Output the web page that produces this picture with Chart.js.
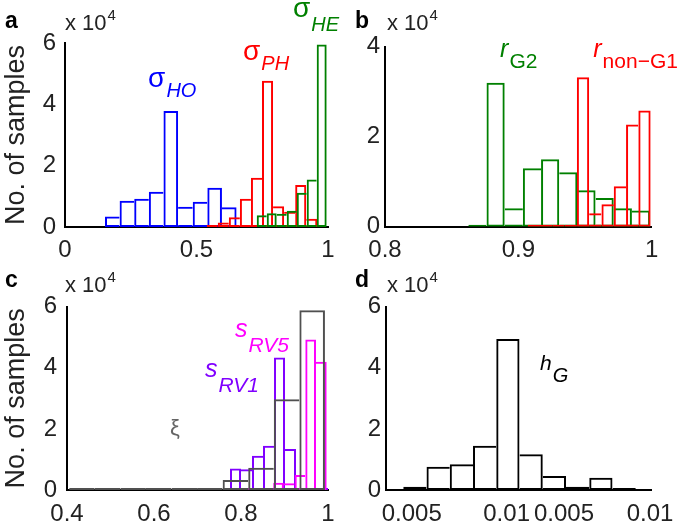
<!DOCTYPE html>
<html>
<head>
<meta charset="utf-8">
<script src="https://cdn.jsdelivr.net/npm/chart.js@4.4.1/dist/chart.umd.min.js"></script>
<style>
  html, body { margin: 0; padding: 0; background: #fff; }
  #wrap { position: relative; width: 700px; height: 527px; }
  canvas { position: absolute; }
</style>
</head>
<body>
<div id="wrap">
  <canvas id="pa" width="350" height="260" style="left:0;top:0"></canvas>
  <canvas id="pb" width="350" height="260" style="left:350px;top:0"></canvas>
  <canvas id="pc" width="350" height="267" style="left:0;top:260px"></canvas>
  <canvas id="pd" width="350" height="267" style="left:350px;top:260px"></canvas>
</div>
<script>
// bin counts, in units of 10^4 samples
const sigmaHO = [0.34, 0.86, 0.92, 1.15, 3.78, 0.66, 0.82, 1.28, 0.64];
const sigmaPH = [0.02, 0.15, 0.32, 0.92, 1.61, 4.77, 0.68, 0.50, 1.37, 0.27];
const sigmaHE = [0.38, 0.45, 0.43, 0.53, 1.12, 1.55, 5.95];
const rG2     = [0.02, 3.20, 0.41, 1.30, 1.50, 1.21, 0.81, 0.64, 0.41, 0.36];
const rNonG1  = [0.01, 0.01, 0.03, 0.03, 3.32, 0.30, 0.50, 0.90, 2.27, 2.58];
const xiVals  = [0.01, 0.02, 0.02, 0.01, 0.03, 0.06, 0.33, 0.73, 2.97, 5.88];
const sRV1    = [0.70, 0.68, 1.12, 1.45, 4.34, 1.34, 0.03, 0.03, 0.01];
const sRV5    = [0.01, 0.01, 0.02, 0.02, 0.24, 0.22, 0.49, 4.93, 4.20];
const hG      = [0.11, 0.76, 0.84, 1.45, 4.94, 1.17, 0.46, 0.11, 0.40, 0.02];

// [first bin edge, bin width]
const sigmaHOBins = [0.152, 0.0556];
const sigmaPHBins = [0.5388, 0.04205];
const sigmaHEBins = [0.729, 0.038];
const rG2Bins     = [0.8625, 0.01363];
const rNonG1Bins  = [0.907, 0.00922];
const xiBins      = [0.405, 0.0588];
const sRV1Bins    = [0.7747, 0.0253];
const sRV5Bins    = [0.7756, 0.0246];
const hGBins      = [0.065, 0.0875];

// axis ticks
const aTicks = [0, 0.5, 1];
const bTicks = [0.8, 0.9, 1];
const cTicks = [0.4, 0.6, 0.8, 1];
const dTicks = [0.097, 0.454, 0.670, 0.994];
const dTickLabels = ['0.005', '0.01', '0.005', '0.01'];
const yTicks6 = [0, 2, 4, 6];
const yTicks4 = [0, 2, 4];

const FAMILY = "'Liberation Sans', Arial, Helvetica, sans-serif";
const LW = 2;

// one line per shared edge: the taller bar draws it
function edgeWidth(ctx) {
  if (ctx.dataIndex === undefined) return LW;
  const d = ctx.dataset.data, i = ctx.dataIndex, h = d[i].y;
  const prev = i > 0 ? d[i - 1].y : -1;
  const next = i < d.length - 1 ? d[i + 1].y : -1;
  return { top: LW, bottom: LW, left: h >= prev ? LW : 0, right: h > next ? LW : 0 };
}

function notes(p) {
  return {
    id: 'notes',
    afterDraw(chart) {
      const ctx = chart.ctx, xs = chart.scales.x, ys = chart.scales.y;
      ctx.save();
      ctx.textAlign = 'left';
      ctx.textBaseline = 'alphabetic';
      ctx.fillStyle = '#000';
      ctx.font = 'bold 23px ' + FAMILY;
      ctx.fillText(p.letter, 5, p.letterY);
      ctx.fillStyle = '#222';
      ctx.font = '22px ' + FAMILY;
      ctx.fillText('x 10', p.mult[0], p.mult[1]);
      const w = ctx.measureText('x 10').width;
      ctx.font = '15px ' + FAMILY;
      ctx.fillText('4', p.mult[0] + w + 1, p.mult[1] - 10);
      p.labels.forEach(n => {
        const x = xs.getPixelForValue(n.x), y = ys.getPixelForValue(n.y);
        ctx.fillStyle = n.color;
        ctx.font = n.mainFont + ' ' + FAMILY;
        ctx.fillText(n.main, x, y);
        if (n.sub) {
          const mw = ctx.measureText(n.main).width;
          ctx.font = n.subFont + ' ' + FAMILY;
          ctx.fillText(n.sub, x + mw + 1, y + n.dy);
        }
      });
      ctx.restore();
    }
  };
}

// series listed top-most first (Chart.js paints dataset 0 last)
function panel(id, p) {
  const H = document.getElementById(id).height;
  const scales = {
    x: {
      type: 'linear', min: p.xMin, max: p.xMax, offset: false,
      afterBuildTicks: s => { s.ticks = p.xTicks.map(v => ({ value: v })); },
      ticks: {
        font: { family: FAMILY, size: 24 }, color: '#222', padding: p.xPad,
        autoSkip: false, maxRotation: 0,
        callback: (v, i) => p.xLabels ? p.xLabels[i] : String(v)
      },
      grid: { display: false, drawTicks: false, offset: false },
      border: { color: '#000', width: 2 },
      afterFit: s => { s.height = H - p.bottom; }
    },
    y: {
      min: 0, max: p.yMax,
      afterBuildTicks: s => { s.ticks = p.yTicks.map(v => ({ value: v })); },
      ticks: { font: { family: FAMILY, size: 24 }, color: '#222', padding: p.yPad },
      grid: { display: false, drawTicks: false },
      border: { color: '#000', width: 2 },
      title: {
        display: !!p.yTitle, text: 'No. of samples', color: '#222',
        font: { family: FAMILY, size: 27 }, padding: 0
      },
      afterFit: s => { s.width = p.left; }
    }
  };
  const datasets = p.series.map((s, k) => {
    const axisId = 'x' + k;
    scales[axisId] = {
      type: 'linear', axis: 'x', display: false, offset: false,
      min: p.xMin, max: p.xMax,
      grid: { offset: false },
      afterBuildTicks: sc => { sc.ticks = [{ value: p.xMin }, { value: p.xMax }]; }
    };
    return {
      type: 'bar',
      data: s.values.map((v, i) => ({ x: s.bins[0] + (i + 0.5) * s.bins[1], y: v })),
      xAxisID: axisId, yAxisID: 'y', grouped: false,
      borderColor: s.color, backgroundColor: 'rgba(0,0,0,0)',
      borderWidth: edgeWidth, borderSkipped: false,
      barPercentage: 1, categoryPercentage: 1, inflateAmount: 0, minBarLength: 2
    };
  });
  new Chart(document.getElementById(id), {
    type: 'bar',
    data: { datasets },
    options: {
      responsive: false, animation: false,
      layout: { padding: { left: 0, right: 350 - p.right, top: p.top, bottom: 0 } },
      plugins: { legend: { display: false }, tooltip: { enabled: false } },
      scales
    },
    plugins: [notes(p)]
  });
}

panel('pa', {
  left: 65, right: 328, top: 43, bottom: 227, yPad: 9, xPad: 9,
  xMin: 0, xMax: 1, xTicks: aTicks, yMax: 6, yTicks: yTicks6, yTitle: true,
  letter: 'a', letterY: 28, mult: [65, 30],
  series: [
    { values: sigmaHE, bins: sigmaHEBins, color: '#008000' },
    { values: sigmaPH, bins: sigmaPHBins, color: '#ff0000' },
    { values: sigmaHO, bins: sigmaHOBins, color: '#0000ff' }
  ],
  labels: [
    { x: 0.316, y: 4.56, main: 'σ', sub: 'HO', color: '#0000ff', mainFont: '28px', subFont: 'italic 20px', dy: 10 },
    { x: 0.677, y: 5.44, main: 'σ', sub: 'PH', color: '#ff0000', mainFont: '28px', subFont: 'italic 20px', dy: 10 },
    { x: 0.867, y: 6.85, main: 'σ', sub: 'HE', color: '#008000', mainFont: '28px', subFont: 'italic 20px', dy: 14 }
  ]
});

panel('pb', {
  left: 35, right: 301.7, top: 46.7, bottom: 226.7, yPad: 5, xPad: 9,
  xMin: 0.8, xMax: 1, xTicks: bTicks, yMax: 4, yTicks: yTicks4, yTitle: false,
  letter: 'b', letterY: 28, mult: [37, 30],
  series: [
    { values: rNonG1, bins: rNonG1Bins, color: '#ff0000' },
    { values: rG2, bins: rG2Bins, color: '#008000' }
  ],
  labels: [
    { x: 0.8863, y: 3.78, main: 'r', sub: 'G2', color: '#008000', mainFont: 'italic 25px', subFont: '21px', dy: 11 },
    { x: 0.9562, y: 3.78, main: 'r', sub: 'non\u2212G1', color: '#ff0000', mainFont: 'italic 25px', subFont: '21px', dy: 11 }
  ]
});

panel('pc', {
  left: 67, right: 328, top: 46.7, bottom: 230, yPad: 10, xPad: 10,
  xMin: 0.4, xMax: 1, xTicks: cTicks, yMax: 6, yTicks: yTicks6, yTitle: true,
  letter: 'c', letterY: 27, mult: [65, 31.7],
  series: [
    { values: xiVals, bins: xiBins, color: '#505050' },
    { values: sRV5, bins: sRV5Bins, color: '#ff00ff' },
    { values: sRV1, bins: sRV1Bins, color: '#8000ff' }
  ],
  labels: [
    { x: 0.637, y: 1.8, main: 'ξ', color: '#666666', mainFont: '22px' },
    { x: 0.717, y: 3.70, main: 's', sub: 'RV1', color: '#8000ff', mainFont: 'italic 25px', subFont: 'italic 21px', dy: 15 },
    { x: 0.786, y: 5.00, main: 's', sub: 'RV5', color: '#ff00ff', mainFont: 'italic 25px', subFont: 'italic 21px', dy: 15 }
  ]
});

panel('pd', {
  left: 36, right: 301.7, top: 46.7, bottom: 230, yPad: 5, xPad: 10,
  xMin: 0, xMax: 1, xTicks: dTicks, xLabels: dTickLabels, yMax: 6, yTicks: yTicks6, yTitle: false,
  letter: 'd', letterY: 27, mult: [37, 31.7],
  series: [
    { values: hG, bins: hGBins, color: '#000000' }
  ],
  labels: [
    { x: 0.58, y: 3.93, main: 'h', sub: 'G', color: '#000000', mainFont: 'italic 21px', subFont: 'italic 20px', dy: 12 }
  ]
});
</script>
</body>
</html>
